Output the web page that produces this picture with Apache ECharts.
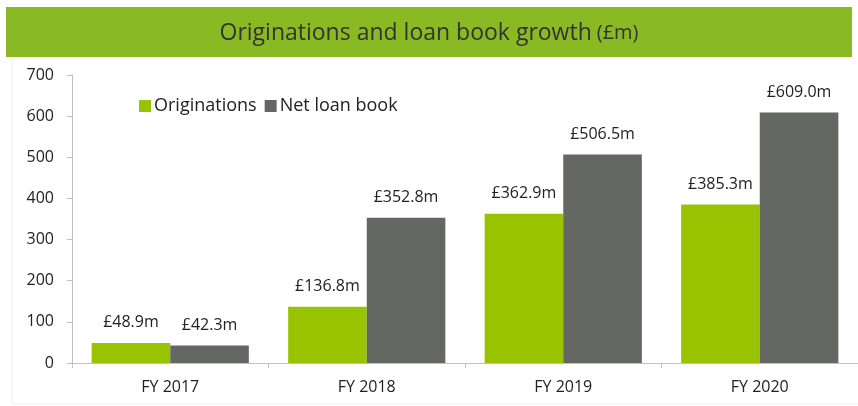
<!DOCTYPE html>
<html>
<head>
<meta charset="utf-8">
<script src="https://cdn.jsdelivr.net/npm/echarts@6/dist/echarts.min.js"></script>
<style>
  html, body { margin: 0; padding: 0; background: #fff; }
  #main { width: 858px; height: 406px; }
</style>
</head>
<body>
<div id="main"></div>
<script>
// data
var categories = ['FY 2017', 'FY 2018', 'FY 2019', 'FY 2020'];
var originations = [48.9, 136.8, 362.9, 385.3];
var netLoanBook = [42.3, 352.8, 506.5, 609.0];
var yTicks = [0, 100, 200, 300, 400, 500, 600, 700];

var font = '"Open Sans", "Liberation Sans", sans-serif';
var myChart = echarts.init(document.getElementById('main'));

function label() {
  return {
    show: true,
    position: 'top',
    distance: 12,
    color: '#222',
    fontFamily: font,
    fontSize: 16,
    formatter: function (p) { return '£' + p.value.toFixed(1) + 'm'; }
  };
}

myChart.setOption({
  animation: false,
  graphic: [
    // green title band
    { type: 'rect', left: 6, top: 7, shape: { width: 846, height: 50 }, style: { fill: '#89ba23' }, z: 0 },
    // faint frame round the plot
    { type: 'line', shape: { x1: 12, y1: 60, x2: 12, y2: 404 }, style: { stroke: '#eeeeee', lineWidth: 1 } },
    { type: 'line', shape: { x1: 12, y1: 404, x2: 858, y2: 404 }, style: { stroke: '#eeeeee', lineWidth: 1 } }
  ],
  title: {
    text: '{a|Originations and loan book growth} {b|(£m)}',
    left: 'center',
    top: 17,
    textStyle: {
      fontWeight: 'normal',
      rich: {
        a: { fontFamily: font, fontSize: 23, fontWeight: 'normal', color: '#333' },
        b: { fontFamily: font, fontSize: 20, fontWeight: 'normal', color: '#333' }
      }
    }
  },
  legend: {
    left: 134,
    top: 92,
    itemWidth: 12,
    itemHeight: 12,
    itemGap: 8,
    icon: 'rect',
    textStyle: { fontFamily: font, fontSize: 18, color: '#222', padding: [0, 0, 0, -2] },
    data: ['Originations', 'Net loan book']
  },
  grid: { left: 72, right: 0, top: 75, bottom: 43, containLabel: false },
  xAxis: {
    type: 'category',
    data: categories,
    axisLine: { lineStyle: { color: '#c0c0c0', width: 1 } },
    axisTick: { show: true, length: 5, lineStyle: { color: '#c0c0c0' } },
    axisLabel: { color: '#222', fontFamily: font, fontSize: 16, margin: 16 }
  },
  yAxis: {
    type: 'value',
    min: yTicks[0],
    max: yTicks[yTicks.length - 1],
    interval: 100,
    axisLine: { show: true, lineStyle: { color: '#c0c0c0', width: 1 } },
    axisTick: { show: true, length: 5, lineStyle: { color: '#c0c0c0' } },
    splitLine: { show: false },
    axisLabel: { color: '#222', fontFamily: font, fontSize: 16, margin: 18 }
  },
  series: [
    {
      name: 'Originations',
      type: 'bar',
      data: originations,
      barGap: '0%',
      barCategoryGap: '20%',
      itemStyle: { color: '#97c300' },
      label: label()
    },
    {
      name: 'Net loan book',
      type: 'bar',
      data: netLoanBook,
      itemStyle: { color: '#656762' },
      label: label()
    }
  ]
});
</script>
</body>
</html>
